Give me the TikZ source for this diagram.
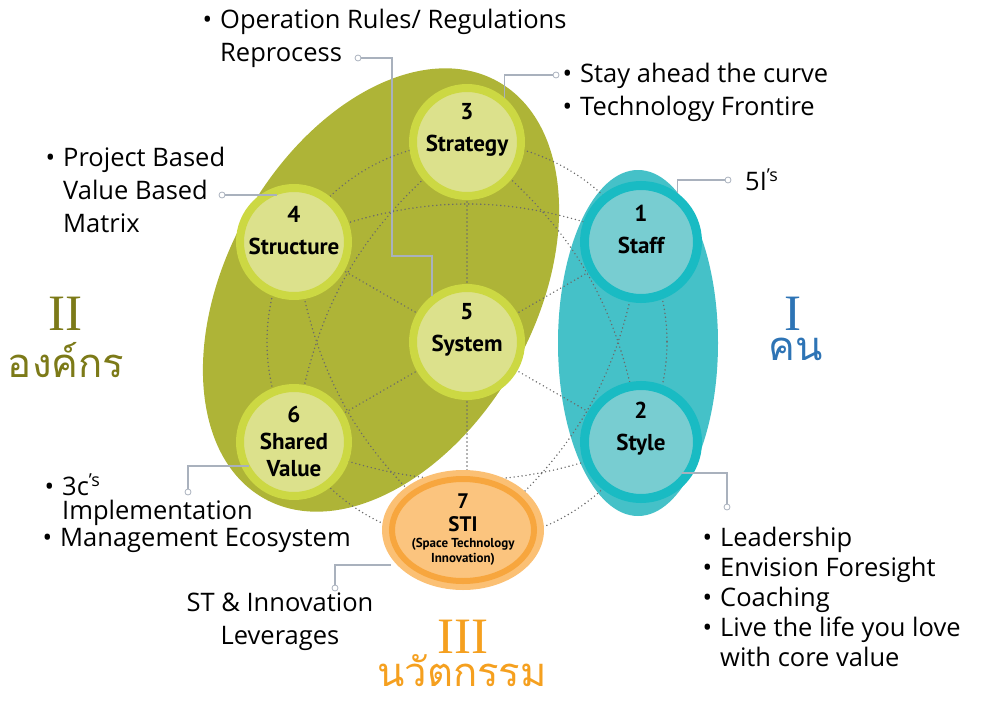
\documentclass[tikz,border=0pt]{standalone}
\usepackage{fontspec}
\setmainfont{Open Sans}
\newfontfamily\thaifont[Script=Thai]{Loma}
\newfontfamily\romfont{Liberation Serif}
\newfontfamily\boxfont{PT Sans}
\usetikzlibrary{positioning,calc,shapes.geometric}

\definecolor{oliveBig}{HTML}{AEB437}
\definecolor{oliveRing}{HTML}{CCD843}
\definecolor{oliveFill}{HTML}{DCE18C}
\definecolor{tealBig}{HTML}{45C1C8}
\definecolor{tealRing}{HTML}{19BBC3}
\definecolor{tealFill}{HTML}{78CDD1}
\definecolor{orangeOut}{HTML}{FBC074}
\definecolor{orangeRing}{HTML}{F7A63E}
\definecolor{orangeIn}{HTML}{FBC47E}
\definecolor{oliveText}{HTML}{7C7A18}
\definecolor{blueText}{HTML}{2E74B5}
\definecolor{orangeText}{HTML}{F5A01F}
\definecolor{webGray}{HTML}{6A6A6A}
\definecolor{connGray}{HTML}{A9B1BD}

\tikzset{
  olivebox/.style={circle, draw=oliveRing, line width=8pt, fill=oliveFill,
    minimum size=108pt, inner sep=0pt},
  tealbox/.style={circle, draw=tealRing, line width=9pt, fill=tealFill,
    minimum size=113pt, inner sep=0pt},
  web/.style={draw=webGray, line width=1.6pt, dash pattern=on 0pt off 4pt, line cap=round},
  conn/.style={draw=connGray, line width=1.3pt},
  note/.style={font=\fontsize{25.5}{33}\selectfont, align=left, anchor=west, inner sep=0pt},
  lbl/.style={font=\boxfont\bfseries\fontsize{23}{32}\selectfont, align=center, inner sep=0pt},
  big/.style={font=\romfont\fontsize{51}{51}\selectfont, inner sep=0pt},
  thai/.style={font=\thaifont\fontsize{40}{40}\selectfont, inner sep=0pt},
}
\newcommand{\bul}{\llap{\textbullet\hspace{8pt}}}
\newcommand{\stisize}{\fontsize{13}{14}\selectfont}

\begin{document}
\begin{tikzpicture}[x=1pt,y=-1pt]
\useasboundingbox (0,0) rectangle (983,701);

% centres of the web
\coordinate (h5) at (467,342);
\coordinate (h3) at (467,142);
\coordinate (h1) at (641,242);
\coordinate (h2) at (641,442);
\coordinate (h7) at (467,542);
\coordinate (h6) at (294,442);
\coordinate (h4) at (294,242);

% background shapes
\fill[oliveBig, rotate around={60.7:(381,290)}] (381,290) ellipse [x radius=239, y radius=154];
\fill[tealBig] (638,343) ellipse [x radius=80, y radius=173];

% dotted web
\draw[web] (h5) circle [radius=200];
\foreach \k in {1,2,3,4,6,7}
  \draw[web] (h5) -- (h\k);
\draw[web] (h4) to[bend left=22] (h1);
\draw[web] (h3) to[bend left=22] (h2);
\draw[web] (h1) to[bend left=22] (h7);
\draw[web] (h2) to[bend left=22] (h6);
\draw[web] (h7) to[bend left=22] (h4);
\draw[web] (h6) to[bend left=22] (h3);

% the seven circles
\node[olivebox] (n3) at (h3) {};
\node[olivebox] (n4) at (h4) {};
\node[olivebox] (n5) at (h5) {};
\node[olivebox] (n6) at (h6) {};
\node[tealbox] (n1) at (h1) {};
\node[tealbox] (n2) at (h2) {};
\node[ellipse, fill=orangeOut, minimum width=162pt, minimum height=120pt, inner sep=0pt] (n7) at (463,530) {};
\draw[orangeRing, line width=6pt, fill=orangeIn] (n7.center) ellipse [x radius=71, y radius=51];

\node[lbl] (t3) at ($(n3.center)+(0,-12)$) {3\\Strategy};
\node[lbl] (t4) at ($(n4.center)+(0,-11)$) {4\\Structure};
\node[lbl] (t5) at ($(n5.center)+(0,-12)$) {5\\System};
\node[lbl, font=\boxfont\bfseries\fontsize{23}{27}\selectfont] (t6) at ($(n6.center)+(0,-1)$) {6\\Shared\\Value};
\node[lbl] (t1) at ($(n1.center)+(0,-13)$) {1\\Staff};
\node[lbl] (t2) at ($(n2.center)+(0,-13)$) {2\\Style};
\node[lbl, font=\boxfont\bfseries\fontsize{21}{23}\selectfont] (t7) at (463,530)
  {7\\STI\\[-7pt]\stisize (Space Technology\\[-8pt]\stisize Innovation)};

% notes
\node[note] (o5) at (220,38) {\bul Operation Rules/ Regulations\\Reprocess};
\node[note] (o3) at (580,92) {\bul Stay ahead the curve\\\bul Technology Frontire};
\node[note] (o1) at (745,180) {5I\textsuperscript{’s}};
\node[note] (o4) at (63,190) {\bul Project Based\\Value Based\\Matrix};
\node[note, font=\fontsize{25.5}{24}\selectfont] (o6a) at (62,500) {\bul 3c\textsuperscript{’s}\\Implementation};
\node[note] (o6c) at (60,540) {\bul Management Ecosystem};
\node[note, align=center, anchor=center] (o7) at (280,622) {ST \& Innovation\\Leverages};
\node[note, font=\fontsize{25.5}{30}\selectfont] (o2) at (720,597)
  {\bul Leadership\\\bul Envision Foresight\\\bul Coaching\\\bul Live the life you love\\with core value};

% connectors
\coordinate (c5) at (358,58);
\coordinate (c3) at (556,75);
\coordinate (c1) at (728,180);
\coordinate (c4) at (222,195);
\coordinate (c6) at (188,492);
\coordinate (c7) at (335,588);
\coordinate (c2) at (727,507);
\draw[conn] (c5) -| (392,256) -| (n5.127);
\draw[conn] (c3) -| (n3.50);
\draw[conn] (c1) -| (n1.53);
\draw[conn] (c4) -- ($(n4.center)+(-17,-47)$);
\draw[conn] (c6) |- ($(n6.center)+(-45,24)$);
\draw[conn] (c7) |- ($(n7.center)+(-72,35)$);
\draw[conn] (c2) |- ($(n2.center)+(41,31)$);
\foreach \c in {c5,c3,c1,c4,c6,c7,c2}
  \draw[conn, line width=0.8pt, fill=white] (\c) circle [radius=3];

% group titles
\node[big, text=oliveText] (r2) at (65,314) {II};
\node[thai, text=oliveText] (g2) at (66,360) {องค์กร};
\node[big, text=blueText] (r1) at (793,314) {I};
\node[thai, text=blueText] (g1) at (796,349) {คน};
\node[big, text=orangeText] (r3) at (463,637) {III};
\node[thai, text=orangeText] (g3) at (462,671) {นวัตกรรม};
\end{tikzpicture}
\end{document}
